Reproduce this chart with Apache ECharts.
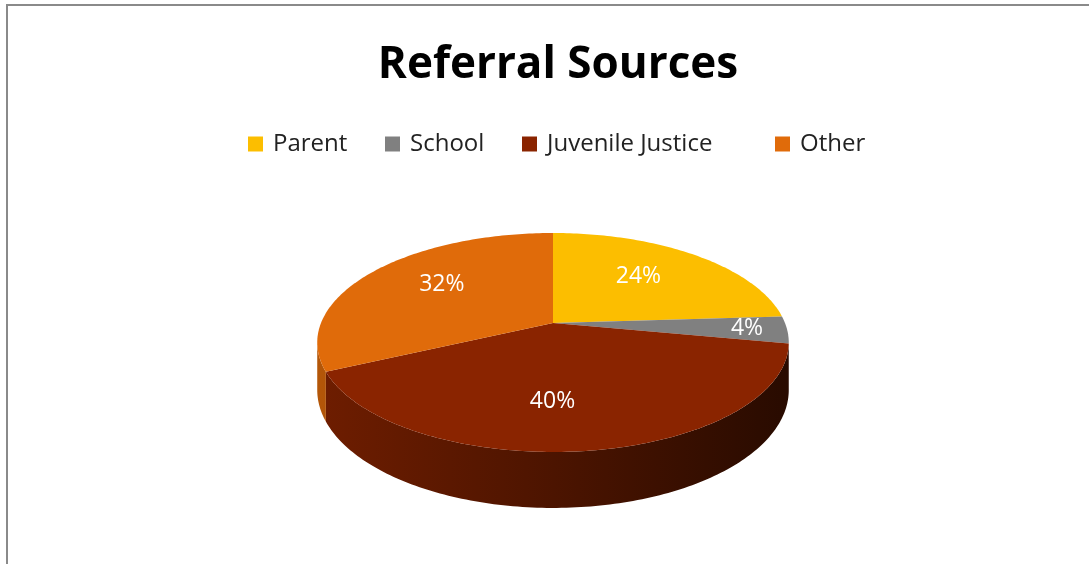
<!DOCTYPE html>
<html>
<head>
<meta charset="utf-8">
<script src="https://cdn.jsdelivr.net/npm/echarts@6/dist/echarts.min.js"></script>
<style>
  html, body { margin: 0; padding: 0; background: #fff; }
  #chart { width: 1089px; height: 564px; }
</style>
</head>
<body>
<div id="chart"></div>
<script>
// Referral sources, share of cases (%)
const categories = ['Parent', 'School', 'Juvenile Justice', 'Other'];
const values = [24, 4, 40, 32];
const colors = ['#FCBE00', '#808080', '#8A2400', '#E06B0A'];

// Layout: left edge of each legend entry, and small label nudges per slice
const legendLefts = [243, 380, 517, 770];
const labelNudge = [[-3, -4], [0, 0], [-20, 8], [0, -6]];

// 3D pie geometry (screen pixels): apex, radii, perspective strength, thickness
const CX = 553, CY = 323, RX = 232, RY = 106, PERSP = 0.178, DEPTH = 46;

const total = values.reduce((a, b) => a + b, 0);
const starts = [];
values.reduce((acc, v, i) => { starts[i] = acc; return acc + v; }, 0);

function darken(hex, k) {
  const c = echarts.color.parse(hex);
  return 'rgb(' + [0, 1, 2].map(j => Math.round(c[j] * k)).join(',') + ')';
}

// project a point of the unit disk (radius r, angle clockwise from 12 o'clock)
function project(r, theta, h) {
  const u = r * Math.sin(theta), w = r * Math.cos(theta);
  const s = 1 / (1 + PERSP * w);
  return [CX + RX * u * s, CY - RY * w * s + (h || 0) * s];
}
function rim(a, b, h) {
  const pts = [];
  const n = Math.max(2, Math.ceil((b - a) / (Math.PI / 180)));
  for (let k = 0; k <= n; k++) pts.push(project(1, a + (b - a) * k / n, h));
  return pts;
}
// front part of the wall that faces the viewer
const VIS0 = Math.acos(-PERSP), VIS1 = 2 * Math.PI - VIS0;

function makeRender(i) {
  return function (params, api) {
    const a = starts[i] / total * 2 * Math.PI;
    const b = (starts[i] + values[i]) / total * 2 * Math.PI;
    const base = colors[i];
    const children = [];
    const sa = Math.max(a, VIS0), sb = Math.min(b, VIS1);
    if (sb > sa) {
      const top = rim(sa, sb, 0);
      const bottom = rim(sa, sb, DEPTH).reverse();
      children.push({
        type: 'polygon',
        shape: { points: top.concat(bottom) },
        style: {
          fill: {
            type: 'linear', global: true,
            x: CX - RX, y: 0, x2: CX + RX, y2: 0,
            colorStops: [
              { offset: 0, color: darken(base, 0.8) },
              { offset: 0.5, color: darken(base, 0.55) },
              { offset: 1, color: darken(base, 0.3) }
            ]
          }
        }
      });
    }
    children.push({
      type: 'polygon',
      shape: { points: [project(0, 0, 0)].concat(rim(a, b, 0)) },
      style: { fill: base }
    });
    const share = values[i] / total;
    const mid = (a + b) / 2;
    const lp = project(share < 0.08 ? 0.83 : 0.6, mid, 0);
    children.push({
      type: 'text',
      x: lp[0] + labelNudge[i][0], y: lp[1] + labelNudge[i][1],
      style: {
        text: Math.round(share * 100) + '%',
        fill: '#ffffff',
        font: '23px "Open Sans", sans-serif',
        align: 'center',
        verticalAlign: 'middle'
      }
    });
    return { type: 'group', children: children };
  };
}

const chart = echarts.init(document.getElementById('chart'));
chart.setOption({
  backgroundColor: '#ffffff',
  animation: false,
  title: {
    text: 'Referral Sources',
    left: 553,
    textAlign: 'center',
    top: 38,
    textStyle: {
      fontFamily: '"Open Sans", sans-serif',
      fontWeight: 'bold',
      fontSize: 44,
      color: '#000000'
    }
  },
  legend: categories.map((name, i) => ({
    data: [name],
    left: legendLefts[i],
    top: 127,
    icon: 'rect',
    itemWidth: 15,
    itemHeight: 15,
    selectedMode: false,
    textStyle: {
      fontFamily: '"Open Sans", sans-serif',
      fontSize: 24,
      color: '#222222',
      padding: [0, 0, 0, 5]
    }
  })),
  graphic: [
    { type: 'line', shape: { x1: 6, y1: 5, x2: 1089, y2: 5 }, style: { stroke: '#8a8a8a', lineWidth: 2 } },
    { type: 'line', shape: { x1: 7, y1: 4, x2: 7, y2: 564 }, style: { stroke: '#8a8a8a', lineWidth: 2 } }
  ],
  series: categories.map((name, i) => ({
    type: 'custom',
    name: name,
    coordinateSystem: 'none',
    itemStyle: { color: colors[i] },
    data: [values[i]],
    renderItem: makeRender(i)
  }))
});
</script>
</body>
</html>
